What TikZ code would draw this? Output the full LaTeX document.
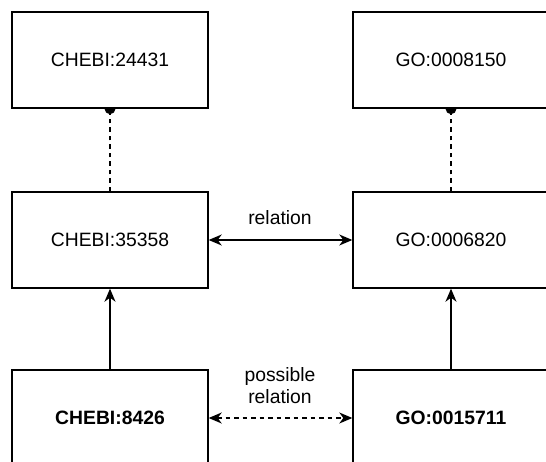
\documentclass[tikz,border=0pt]{standalone}
\usepackage{fontspec}
\setmainfont{Liberation Sans}
\usetikzlibrary{arrows.meta}
\pgfdeclarelayer{bg}
\pgfsetlayers{bg,main}
\begin{document}
\begin{tikzpicture}[x=1bp,y=-1bp,
  box/.style={draw, fill=white, line width=1.4bp, minimum width=196bp,
    minimum height=96bp, inner sep=0pt, font=\fontsize{19.4}{22}\selectfont},
  lbl/.style={inner sep=0pt, align=center, font=\fontsize{19.4}{22}\selectfont},
  conn/.style={line width=1.4bp},
  tipend/.style={-{Stealth[length=13bp,width=11bp,inset=4bp]}},
  tipboth/.style={{Stealth[length=13bp,width=11bp,inset=4bp]}-{Stealth[length=13bp,width=11bp,inset=4bp]}},
  dashline/.style={dash pattern=on 4.5bp off 4bp}]
\useasboundingbox (0,0) rectangle (546,462);
\clip (0,0) rectangle (546,462);

% ontology terms
\node[box] (chebiTop) at (110,60) {CHEBI:24431};
\node[box] (goTop)    at (451,60) {GO:0008150};
\node[box] (chebiMid) at (110,240) {CHEBI:35358};
\node[box] (goMid)    at (451,240) {GO:0006820};
\node[box, font=\fontsize{19.4}{22}\selectfont\bfseries] (chebiLow) at (110,418) {CHEBI:8426};
\node[box, font=\fontsize{19.4}{22}\selectfont\bfseries] (goLow)    at (451,418) {GO:0015711};

% dashed links to the root terms, with a dot tucked under the box edge
\begin{pgfonlayer}{bg}
  \fill (chebiTop.south) circle (5.5bp);
  \fill (goTop.south) circle (5.5bp);
\end{pgfonlayer}
\draw[conn, dashline] (chebiMid.north) -- (chebiTop.south);
\draw[conn, dashline] (goMid.north) -- (goTop.south);

% is-a arrows
\draw[conn, tipend] (chebiLow.north) -- (chebiMid.south);
\draw[conn, tipend] (goLow.north) -- (goMid.south);

% relations
\draw[conn, tipboth] (chebiMid.east) -- (goMid.west);
\node[lbl] (relLbl) at (280,218) {relation};
\draw[conn, tipboth, dashline] (chebiLow.east) -- (goLow.west);
\node[lbl] (possLbl) at (280,386) {possible\\relation};
\end{tikzpicture}
\end{document}
